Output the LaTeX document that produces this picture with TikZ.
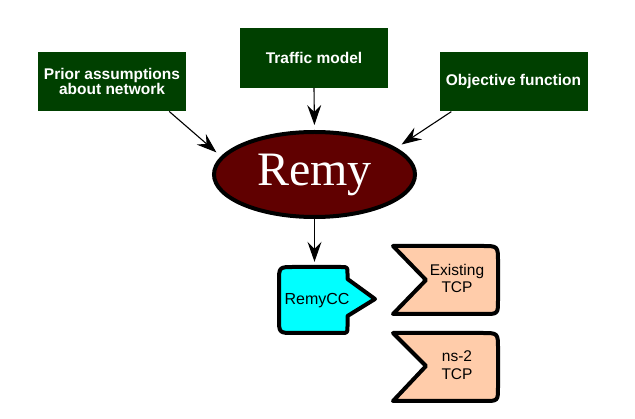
\documentclass[tikz,border=0pt]{standalone}
\usepackage{fontspec}
\setmainfont{Liberation Serif}
\setsansfont{Liberation Sans}
\usetikzlibrary{arrows.meta,calc,shapes.geometric}
\definecolor{boxgreen}{RGB}{0,64,0}
\definecolor{remyred}{RGB}{96,0,0}
\definecolor{tcppeach}{RGB}{255,204,170}
\definecolor{ccyan}{RGB}{0,255,255}
\begin{document}
\begin{tikzpicture}[x=1pt,y=-1pt,
  inbox/.style={fill=boxgreen, text=white, font=\sffamily\bfseries\fontsize{15.5}{14.5}\selectfont,
    minimum width=148pt, minimum height=59.5pt, inner sep=0pt, align=center},
  arr/.style={line width=1.1pt, -{Stealth[length=20pt,width=14pt,inset=7pt]}},
  shapeline/.style={line width=4pt, line join=round},
  lbl/.style={font=\sffamily\fontsize{15.5}{17}\selectfont, align=center, inner sep=0pt}]
\fill[white] (0,0) rectangle (635,419);
\useasboundingbox (0,0) rectangle (635,419);

% input boxes
\node[inbox] (b1) at (112,81.5) {Prior assumptions\\about network};
\node[inbox] (b2) at (314,58) {Traffic model};
\node[inbox] (b3) at (513.5,81.7) {Objective function};

% Remy ellipse
\node[ellipse, draw, line width=4pt, fill=remyred, text=white, minimum width=201pt,
  minimum height=85pt, inner sep=0pt, font=\fontsize{48}{48}\selectfont] (remy) at (314.5,174.5) {Remy};

% RemyCC shape
\filldraw[shapeline, fill=ccyan] (279,282) .. controls (279,267) .. (294,267) -- (341,267)
  .. controls (347.5,267) .. (347.5,273.5) -- (347.5,279) -- (375,299) -- (347.5,316)
  -- (347.5,326.5) .. controls (347.5,333) .. (341,333) -- (294,333)
  .. controls (279,333) .. (279,318) -- cycle;
\node[lbl, font=\sffamily\fontsize{16}{17}\selectfont, minimum height=64pt] (rcc) at (317,301) {RemyCC};

% TCP shapes
\filldraw[shapeline, fill=tcppeach] (393,246) -- (482,246) .. controls (498,246) .. (498,262)
  -- (498,300) .. controls (498,314) .. (484,314) -- (393,314) -- (426,280) -- cycle;
\filldraw[shapeline, fill=tcppeach] (393,333) -- (482,333) .. controls (498,333) .. (498,349)
  -- (498,387) .. controls (498,401) .. (484,401) -- (393,401) -- (426,366) -- cycle;
\node[lbl] (etcp) at (457,278) {Existing\\TCP};
\node[lbl, font=\sffamily\fontsize{15.5}{18}\selectfont] (ns2) at (457,365.5) {ns-2\\TCP};

% connectors
\draw[arr, shorten >=6pt] ($(b1.south east)+(-17,0)$) -- (remy.169.7);
\draw[arr, shorten >=5pt] (b2.south) -- (remy.north);
\draw[arr, shorten >=6pt] ($(b3.south west)+(12,0)$) -- (remy.18.5);
\draw[arr, shorten >=7pt] (remy.south) -- (remy.south |- rcc.north);
\end{tikzpicture}
\end{document}
